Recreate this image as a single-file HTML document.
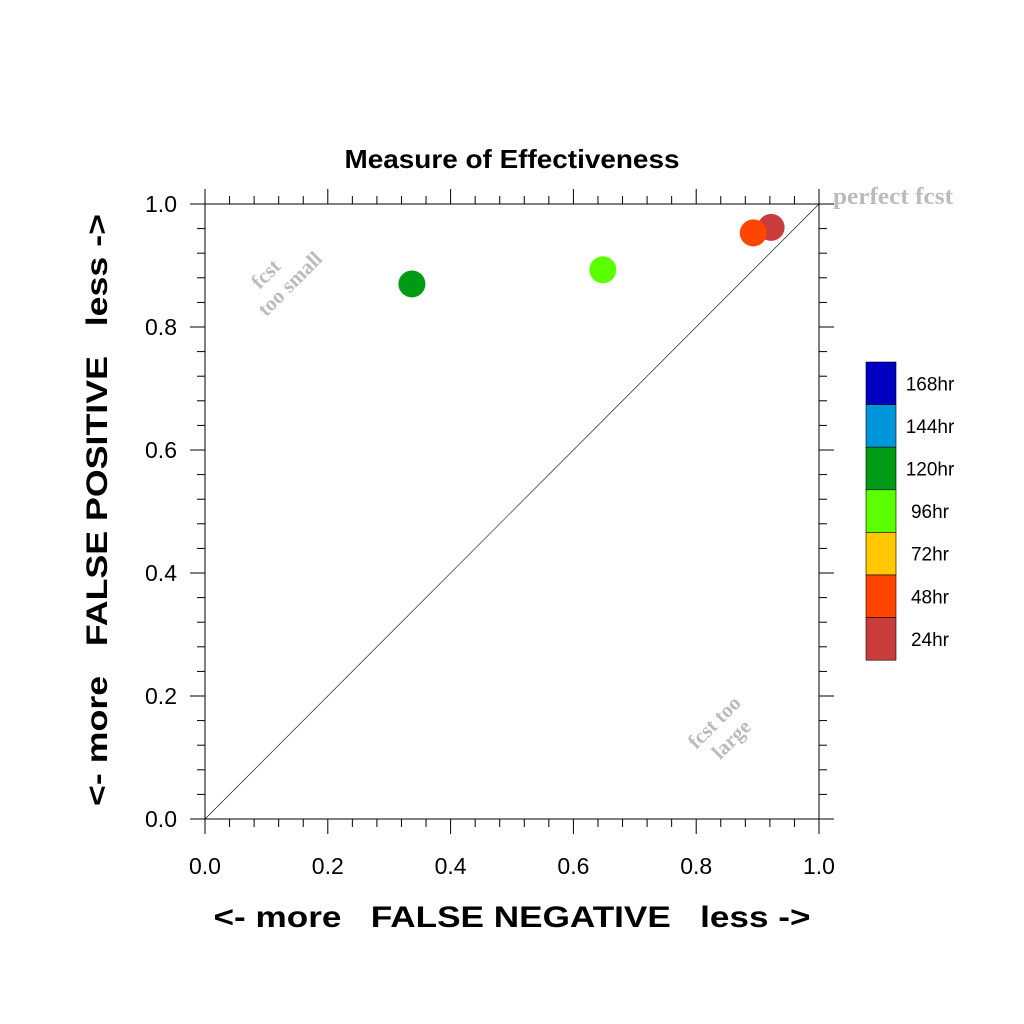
<!DOCTYPE html>
<html><head><meta charset="utf-8"><style>
html,body{margin:0;padding:0;background:#fff;}
svg{display:block;font-family:"Liberation Sans",sans-serif;}
</style></head><body>
<svg id="chart" width="1024" height="1024" viewBox="0 0 1024 1024" xmlns="http://www.w3.org/2000/svg">
<text x="512" y="168" text-anchor="middle" font-size="26" font-weight="bold" textLength="335" lengthAdjust="spacingAndGlyphs">Measure of Effectiveness</text>
<g id="axes"></g>
<line x1="205" y1="819" x2="819" y2="204" stroke="#000" stroke-width="0.6"/>
<g id="points"></g>
<text x="833" y="204" font-family="Liberation Serif,serif" font-weight="bold" font-size="24" fill="#bbb" textLength="120" lengthAdjust="spacingAndGlyphs">perfect fcst</text>
<g transform="translate(282,276) rotate(-45)" font-family="Liberation Serif,serif" font-weight="bold" font-size="21" fill="#bbb" text-anchor="middle">
<text x="-10" y="-6">fcst</text><text x="0" y="18">too small</text></g>
<g transform="translate(722,730) rotate(-45)" font-family="Liberation Serif,serif" font-weight="bold" font-size="21" fill="#bbb" text-anchor="middle">
<text x="0" y="-4">fcst too</text><text x="0" y="20">large</text></g>
<text x="512" y="927" text-anchor="middle" font-size="30" font-weight="bold" xml:space="preserve" textLength="597" lengthAdjust="spacingAndGlyphs">&lt;- more   FALSE NEGATIVE   less -&gt;</text>
<text transform="translate(107,510) rotate(-90)" text-anchor="middle" font-size="30" font-weight="bold" xml:space="preserve" textLength="592" lengthAdjust="spacingAndGlyphs">&lt;- more   FALSE POSITIVE   less -&gt;</text>
<g id="legend"></g>
</svg>
<script>
const xVals=[0.922,0.893,0.648,0.337];
const yVals=[0.962,0.953,0.893,0.870];
const pointColors=["#c83c3c","#ff4500","#5aff00","#009b14"];
const tickLabels=["0.0","0.2","0.4","0.6","0.8","1.0"];
const legendLabels=["168hr","144hr","120hr","96hr","72hr","48hr","24hr"];
const legendColors=["#0000c0","#0096dc","#009b14","#5aff00","#ffc800","#ff4500","#c83c3c"];
const NS="http://www.w3.org/2000/svg";
const X0=205,X1=819,Y0=819,Y1=204;
const sx=v=>X0+(X1-X0)*v, sy=v=>Y0-(Y0-Y1)*v;
function mk(t,a,p){const e=document.createElementNS(NS,t);for(const k in a)e.setAttribute(k,a[k]);p.appendChild(e);return e;}
const ax=document.getElementById('axes');
const frame=[[X0,Y0,X1,Y0],[X0,Y1,X1,Y1],[X0,Y0,X0,Y1],[X1,Y0,X1,Y1]];
frame.forEach(f=>{const l=mk('line',{x1:f[0],y1:f[1],x2:f[2],y2:f[3],stroke:'#000','stroke-width':1},ax);

});
for(let i=0;i<=25;i++){const v=i*0.04;const maj=(i%5===0);const L=maj?15:8;
const x=sx(v),y=sy(v);
[[x,Y0,x,Y0+L],[x,Y1,x,Y1-L],[X0,y,X0-L,y],[X1,y,X1+L,y]].forEach(s=>{const l=mk('line',{x1:s[0],y1:s[1],x2:s[2],y2:s[3],stroke:'#000','stroke-width':1},ax);

});}
tickLabels.forEach((t,i)=>{const v=i*0.2;
const a=mk('text',{x:sx(v),y:874,'text-anchor':'middle','font-size':23},ax);a.textContent=t;


const b=mk('text',{x:177,y:sy(v)+8,'text-anchor':'end','font-size':23},ax);b.textContent=t;

});
const pts=document.getElementById('points');
xVals.forEach((v,i)=>{const c=mk('circle',{cx:sx(v),cy:sy(yVals[i]),r:13.5,fill:pointColors[i]},pts);

});
const lg=document.getElementById('legend');const bh=42.6;
legendLabels.forEach((t,i)=>{const r=mk('rect',{x:866,y:362+i*bh,width:30,height:bh,fill:legendColors[i],stroke:'#000','stroke-width':0.6},lg);


const tx=mk('text',{x:930,y:362+i*bh+bh/2+7,'text-anchor':'middle','font-size':19},lg);tx.textContent=t;

});
</script>
</body></html>
